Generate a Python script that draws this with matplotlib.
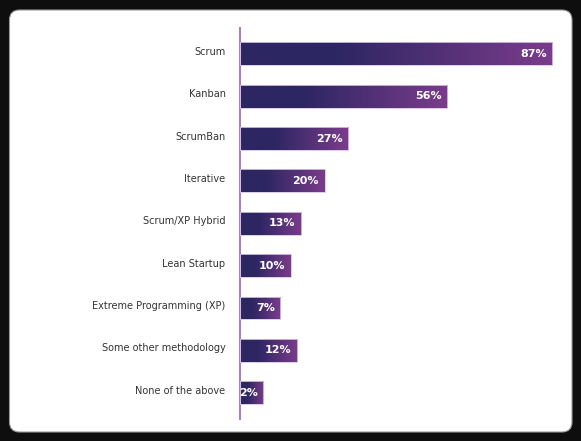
import numpy as np
import matplotlib
matplotlib.use('Agg')
import matplotlib.pyplot as plt
from matplotlib.colors import LinearSegmentedColormap
from matplotlib.patches import FancyBboxPatch
from matplotlib.transforms import ScaledTranslation

methods = ['Scrum', 'Kanban', 'ScrumBan', 'Iterative', 'Scrum/XP Hybrid',
           'Lean Startup', 'Extreme Programming (XP)', 'Some other methodology',
           'None of the above']
percent = [87, 56, 27, 20, 13, 10, 7, 12, 2]

stub = 5  # small visual stub so tiny bars can hold their label
dark = '#2c2662'
purple = '#7b3c8c'
grad = LinearSegmentedColormap.from_list('bar', [(0, dark), (0.3, dark), (1, purple)])

fig = plt.figure(figsize=(5.81, 4.41), dpi=100)
fig.patch.set_facecolor('#0e0e0e')

# white rounded panel, behind the axes
panel = FancyBboxPatch((0.095, 0.09), 5.625, 4.22,
                       boxstyle='round,pad=0,rounding_size=0.1',
                       transform=fig.dpi_scale_trans,
                       fc='white', ec='#9a9a9a', lw=0.8, zorder=-5)
fig.patches.append(panel)

ax = fig.add_axes([239.5 / 581, 1 - 419 / 441, 323 / 581, 391 / 441])
ax.set_facecolor('none')
ax.set_zorder(2)

y = np.arange(len(methods))
bars = ax.barh(y, np.array(percent) + stub, left=-stub, height=0.54,
               color='none', edgecolor='#d8c6e4', linewidth=0.6, zorder=3)

ramp = np.linspace(0, 1, 256).reshape(1, -1)
for bar, p in zip(bars, percent):
    x0, y0 = bar.get_x(), bar.get_y()
    im = ax.imshow(ramp, cmap=grad, aspect='auto', zorder=2,
                   extent=[x0, x0 + bar.get_width(), y0, y0 + bar.get_height()])
    im.set_clip_path(bar)
    ax.annotate(f'{p}%', (x0 + bar.get_width(), bar.get_y() + bar.get_height() / 2),
                xytext=(-4, 0), textcoords='offset points', ha='right', va='center',
                color='white', fontsize=8, fontweight='bold', zorder=4)

ax.set_xlim(-stub, 90)
ax.set_ylim(len(methods) - 1 + 0.62, -0.61)
ax.set_yticks(y)
ax.set_yticklabels(methods, fontsize=7, color='#333333')
ax.tick_params(axis='y', length=0, pad=10)
# labels sit a touch above the bar centre in the original
shift = ScaledTranslation(0, 0.03, fig.dpi_scale_trans)
for lab in ax.get_yticklabels():
    lab.set_transform(lab.get_transform() + shift)
ax.set_xticks([])
for side in ['top', 'right', 'bottom']:
    ax.spines[side].set_visible(False)
ax.spines['left'].set_color('#a97fc0')
ax.spines['left'].set_linewidth(1.5)

fig.savefig('out.png', dpi=100, facecolor=fig.get_facecolor())
